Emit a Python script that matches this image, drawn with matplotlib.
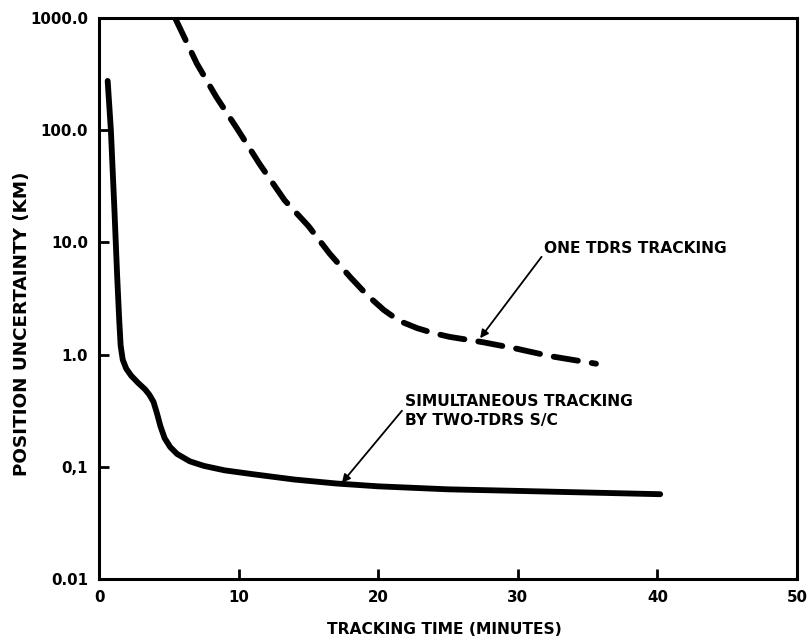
import matplotlib
matplotlib.use("Agg")
import matplotlib.pyplot as plt

# ---- data ----
two_tdrs_x = [0.62, 0.85, 1.1, 1.3, 1.45, 1.55, 1.7, 1.95, 2.3, 2.8, 3.3, 3.6, 3.9,
              4.15, 4.4, 4.7, 5.1, 5.6, 6.5, 7.5, 9, 11, 14, 17, 20, 25, 30, 35, 40.2]
two_tdrs_y = [275, 100, 20, 5.0, 2.0, 1.2, 0.9, 0.75, 0.65, 0.56, 0.49, 0.44, 0.38,
              0.30, 0.23, 0.18, 0.15, 0.13, 0.112, 0.102, 0.093, 0.086, 0.077, 0.071,
              0.067, 0.063, 0.061, 0.059, 0.057]

one_tdrs_x = [5.45, 7.0, 8.4, 9.9, 11.5, 13.3, 15.0, 16.5, 18.0, 19.2, 20.4, 21.5, 22.8,
              24.0, 25.1, 27.5, 29.9, 32.3, 35.6]
one_tdrs_y = [1000, 394, 198, 103, 50, 23.7, 14, 8.0, 4.9, 3.4, 2.5, 2.0, 1.72,
              1.55, 1.44, 1.29, 1.13, 0.97, 0.83]

x_ticks = [0, 10, 20, 30, 40, 50]
y_ticks = [0.01, 0.1, 1.0, 10.0, 100.0, 1000.0]
y_tick_labels = ["0.01", "0,1", "1.0", "10.0", "100.0", "1000.0"]

x_label = "TRACKING TIME (MINUTES)"
y_label = "POSITION UNCERTAINTY (KM)"
label_one = "ONE TDRS TRACKING"
label_two = "SIMULTANEOUS TRACKING\nBY TWO-TDRS S/C"

# ---- figure ----
fig = plt.figure(figsize=(8.07, 6.41), dpi=100)
ax = fig.add_axes([0.1227, 0.0967, 0.8649, 0.8752])

ax.plot(two_tdrs_x, two_tdrs_y, color="black", lw=4.2, solid_capstyle="round",
        solid_joinstyle="round")
ax.plot(one_tdrs_x, one_tdrs_y, color="black", lw=4.2, dashes=(4.2, 2.4),
        dash_capstyle="round")

ax.set_yscale("log")
ax.set_xlim(0, 50)
ax.set_ylim(0.01, 1000)
ax.set_xticks(x_ticks)
ax.set_xticklabels([str(t) for t in x_ticks])
ax.set_yticks(y_ticks)
ax.set_yticklabels(y_tick_labels)
ax.minorticks_off()

for s in ax.spines.values():
    s.set_linewidth(2.2)

ax.tick_params(axis="both", direction="in", length=7, width=2, labelsize=10.8, pad=8)
for lab in ax.get_xticklabels() + ax.get_yticklabels():
    lab.set_fontweight("bold")

ax.set_xlabel(x_label, fontsize=11.2, fontweight="bold")
ax.set_ylabel(y_label, fontsize=13.2, fontweight="bold")
ax.xaxis.set_label_coords(0.495, -0.077)
ax.yaxis.set_label_coords(-0.098, 0.455)

ax.annotate(label_one, xy=(27.3, 1.40), xytext=(31.9, 8.8),
            fontsize=11.2, fontweight="bold", ha="left", va="center",
            arrowprops=dict(arrowstyle="-|>", color="black", lw=1.3,
                            mutation_scale=12, shrinkA=0, shrinkB=0,
                            relpos=(0, 0.2)))
ax.annotate(label_two, xy=(17.4, 0.072), xytext=(21.9, 0.316),
            fontsize=11.2, fontweight="bold", ha="left", va="center",
            linespacing=1.3,
            arrowprops=dict(arrowstyle="-|>", color="black", lw=1.3,
                            mutation_scale=12, shrinkA=0, shrinkB=0,
                            relpos=(0, 0.6)))

fig.savefig("out.png", dpi=100)
